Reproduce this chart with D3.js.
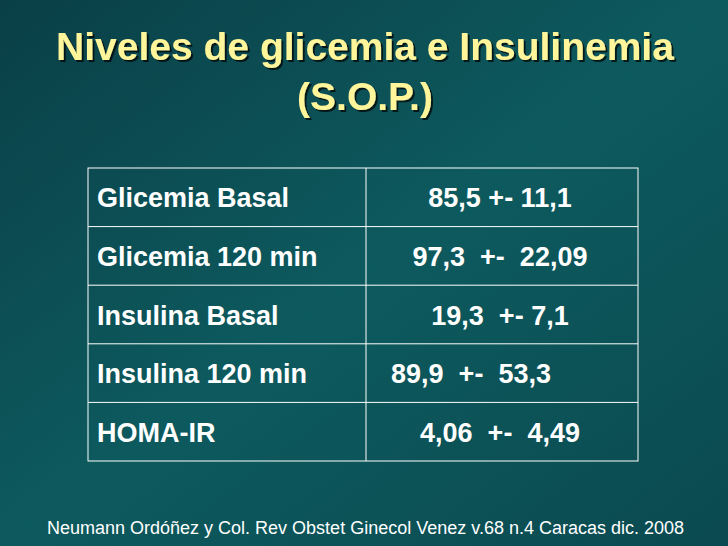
<!DOCTYPE html>
<html><head><meta charset="utf-8">
<script src="https://cdn.jsdelivr.net/npm/d3@7"></script>
<style>body{margin:0;background:#0b4a50}</style>
</head><body>
<div id="chart"></div>
<script>
const rowLabels = ["Glicemia Basal", "Glicemia 120 min", "Insulina Basal", "Insulina 120 min", "HOMA-IR"];
const rowValues = ["85,5 +- 11,1", "97,3  +-  22,09", "19,3  +- 7,1", "89,9  +-  53,3", "4,06  +-  4,49"];
const valueOffsets = [0, 0, 0, -29, 0];

const W = 728, H = 546;
const svg = d3.select("#chart").append("svg").attr("width", W).attr("height", H);

const defs = svg.append("defs");
const grad = defs.append("linearGradient").attr("id", "bg").attr("x1", 0).attr("y1", 0).attr("x2", 1).attr("y2", 1);
grad.append("stop").attr("offset", "0%").attr("stop-color", "#0a3f47");
grad.append("stop").attr("offset", "50%").attr("stop-color", "#0d5a5e");
grad.append("stop").attr("offset", "100%").attr("stop-color", "#0a4a50");
svg.append("rect").attr("width", W).attr("height", H).attr("fill", "url(#bg)");

const shadow = defs.append("filter").attr("id", "shadow");
shadow.append("feDropShadow").attr("dx", 2).attr("dy", 2).attr("stdDeviation", 0.5)
  .attr("flood-color", "#000").attr("flood-opacity", 0.7);

// Title
const title = svg.append("g").attr("font-family", "Arial, 'Liberation Sans', sans-serif")
  .attr("font-weight", "bold").attr("font-size", 39).attr("text-anchor", "middle")
  .attr("fill", "#fff59b").attr("filter", "url(#shadow)");
[["Niveles de glicemia e Insulinemia", 60], ["(S.O.P.)", 110]].forEach(([t, y]) => {
  title.append("text").attr("x", W / 2 + 1).attr("y", y).text(t);
});

// Table
const x0 = 88, x1 = 366, x2 = 638;
const y = d3.scaleBand().domain(rowLabels).range([168, 461]);
const tbl = svg.append("g").attr("font-family", "Arial, 'Liberation Sans', sans-serif")
  .attr("font-weight", "bold").attr("font-size", 27).attr("fill", "#fff");

tbl.append("rect").attr("x", x0).attr("y", y.range()[0]).attr("width", x2 - x0)
  .attr("height", y.range()[1] - y.range()[0]).attr("fill", "none").attr("stroke", "#fff").attr("stroke-width", 1);
tbl.append("line").attr("x1", x1).attr("x2", x1).attr("y1", y.range()[0]).attr("y2", y.range()[1])
  .attr("stroke", "#fff");
tbl.selectAll(".sep").data(rowLabels.slice(1)).enter().append("line")
  .attr("x1", x0).attr("x2", x2).attr("y1", d => y(d)).attr("y2", d => y(d)).attr("stroke", "#fff");

tbl.selectAll(".lab").data(rowLabels).enter().append("text")
  .attr("x", x0 + 9).attr("y", d => y(d) + y.bandwidth() / 2 + 10).text(d => d);
tbl.selectAll(".val").data(rowValues).enter().append("text")
  .attr("text-anchor", "middle").style("white-space", "pre").attr("xml:space", "preserve")
  .attr("x", (d, i) => (x1 + x2) / 2 - 2 + valueOffsets[i])
  .attr("y", (d, i) => y(rowLabels[i]) + y.bandwidth() / 2 + 10).text(d => d);

// Source
svg.append("text").attr("x", 47).attr("y", 534).attr("fill", "#fff")
  .attr("font-family", "Arial, 'Liberation Sans', sans-serif").attr("font-size", 18)
  .text("Neumann Ordóñez y Col. Rev Obstet Ginecol Venez v.68 n.4 Caracas dic. 2008");
</script>
</body></html>
